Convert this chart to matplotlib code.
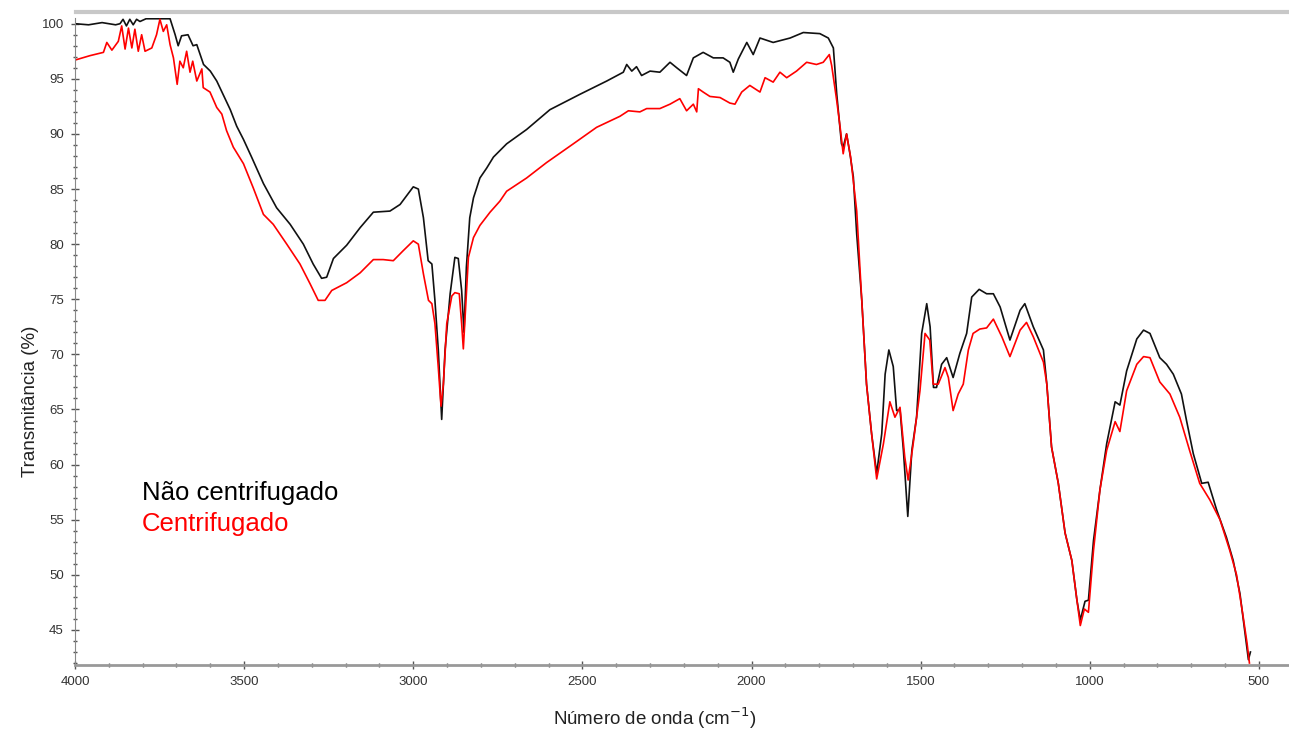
import matplotlib
matplotlib.use("Agg")
import matplotlib.pyplot as plt
from matplotlib.lines import Line2D
import numpy as np

plt.rcParams['font.family'] = ['Liberation Sans', 'DejaVu Sans']

# Não centrifugado (preto)
wn_nc = [4000, 3960, 3920, 3880, 3867, 3858, 3848, 3838, 3828, 3818, 3808, 3790, 3770, 3750, 3735, 3719,
         3704, 3695, 3685, 3666, 3651, 3640, 3620, 3600, 3581, 3561, 3541, 3522, 3502, 3478, 3443, 3404,
         3364, 3325, 3296, 3271, 3256, 3236, 3197, 3157, 3118, 3069, 3039, 3000, 2985, 2970, 2956, 2945,
         2936, 2926, 2916, 2906, 2891, 2877, 2867, 2857, 2850, 2843, 2833, 2822, 2803, 2783, 2763, 2724,
         2665, 2596, 2507, 2428, 2379, 2369, 2354, 2340, 2325, 2300, 2271, 2241, 2221, 2192, 2172, 2143,
         2113, 2084, 2064, 2054, 2039, 2014, 1995, 1975, 1936, 1886, 1847, 1798, 1773, 1758, 1748, 1734,
         1729, 1719, 1709, 1699, 1689, 1674, 1660, 1645, 1630, 1615, 1605, 1594, 1581, 1571, 1561, 1551,
         1538, 1526, 1512, 1497, 1482, 1472, 1462, 1453, 1438, 1423, 1404, 1384, 1364, 1349, 1327, 1305,
         1285, 1265, 1236, 1206, 1192, 1167, 1137, 1127, 1113, 1093, 1073, 1053, 1038, 1028, 1014, 1004,
         989, 970, 950, 925, 911, 891, 861, 841, 822, 793, 773, 753, 729, 714, 694, 669, 650, 625, 596,
         576, 556, 541, 531, 525]
t_nc = [100.0, 99.9, 100.1, 99.9, 100.0, 100.4, 99.8, 100.4, 99.9, 100.4, 100.2, 100.45, 100.45, 100.45, 100.45, 100.45,
        99.0, 98.0, 98.9, 99.0, 98.0, 98.1, 96.3, 95.7, 94.8, 93.5, 92.2, 90.7, 89.5, 87.9, 85.5, 83.3,
        81.8, 80.0, 78.2, 76.9, 77.0, 78.7, 79.9, 81.5, 82.9, 83.0, 83.6, 85.2, 85.0, 82.4, 78.5, 78.2,
        74.9, 70.4, 64.1, 70.4, 75.5, 78.8, 78.7, 75.8, 72.0, 77.9, 82.4, 84.2, 86.0, 86.9, 87.9, 89.1,
        90.4, 92.2, 93.6, 94.8, 95.6, 96.3, 95.7, 96.1, 95.3, 95.7, 95.6, 96.5, 96.0, 95.3, 96.9, 97.4,
        96.9, 96.9, 96.5, 95.6, 96.8, 98.3, 97.2, 98.7, 98.3, 98.7, 99.2, 99.1, 98.7, 97.8, 93.6, 89.1,
        88.8, 90.0, 88.2, 86.1, 80.9, 74.9, 67.3, 62.8, 59.2, 62.8, 68.2, 70.4, 68.9, 64.9, 65.0, 61.3,
        55.3, 61.3, 64.3, 71.9, 74.6, 72.5, 67.0, 67.0, 69.1, 69.7, 67.9, 70.1, 71.9, 75.2, 75.9, 75.5,
        75.5, 74.3, 71.3, 74.0, 74.6, 72.5, 70.4, 67.3, 61.6, 58.3, 53.8, 51.3, 47.7, 45.9, 47.6, 47.7,
        53.1, 57.7, 61.9, 65.7, 65.4, 68.5, 71.4, 72.2, 71.9, 69.7, 69.1, 68.2, 66.4, 64.0, 61.0, 58.3,
        58.4, 55.9, 53.4, 51.3, 48.3, 44.7, 42.3, 43.0]

# Centrifugado (vermelho)
wn_c = [4000, 3956, 3916, 3906, 3891, 3872, 3862, 3852, 3842, 3832, 3823, 3813, 3803, 3793, 3773, 3759,
        3749, 3739, 3729, 3719, 3709, 3698, 3690, 3680, 3670, 3660, 3652, 3640, 3625, 3621, 3601, 3581,
        3566, 3552, 3532, 3502, 3473, 3443, 3414, 3374, 3335, 3305, 3281, 3261, 3241, 3197, 3157, 3118,
        3089, 3059, 3030, 3000, 2985, 2970, 2955, 2945, 2936, 2926, 2918, 2911, 2901, 2886, 2877, 2864,
        2857, 2852, 2844, 2837, 2822, 2803, 2773, 2744, 2724, 2665, 2606, 2527, 2458, 2389, 2364, 2330,
        2310, 2271, 2241, 2212, 2192, 2172, 2162, 2157, 2143, 2123, 2093, 2064, 2049, 2029, 2005, 1975,
        1960, 1936, 1916, 1896, 1867, 1837, 1808, 1788, 1770, 1763, 1748, 1738, 1729, 1719, 1707, 1689,
        1674, 1660, 1645, 1630, 1610, 1591, 1576, 1561, 1547, 1537, 1522, 1502, 1487, 1473, 1463, 1448,
        1428, 1418, 1404, 1389, 1374, 1359, 1345, 1325, 1305, 1285, 1260, 1236, 1206, 1187, 1167, 1137,
        1127, 1113, 1093, 1073, 1053, 1038, 1028, 1016, 1004, 989, 970, 950, 925, 911, 891, 861, 841,
        822, 793, 763, 734, 705, 675, 645, 615, 586, 566, 548, 535, 528]
t_c = [96.7, 97.1, 97.4, 98.3, 97.6, 98.4, 99.8, 97.7, 99.6, 97.8, 99.5, 97.5, 99.0, 97.5, 97.8, 99.0,
       100.4, 99.3, 99.9, 98.1, 96.9, 94.5, 96.6, 96.0, 97.5, 95.6, 96.6, 94.8, 95.9, 94.2, 93.8, 92.4,
       91.8, 90.3, 88.8, 87.3, 85.1, 82.7, 81.8, 80.0, 78.2, 76.4, 74.9, 74.9, 75.8, 76.5, 77.4, 78.6,
       78.6, 78.5, 79.4, 80.3, 80.0, 77.3, 74.9, 74.6, 72.8, 68.8, 65.3, 67.3, 72.8, 75.3, 75.6, 75.5,
       72.8, 70.5, 74.9, 78.8, 80.6, 81.7, 82.9, 83.9, 84.8, 86.0, 87.4, 89.1, 90.6, 91.6, 92.1, 92.0,
       92.3, 92.3, 92.7, 93.2, 92.1, 92.7, 92.0, 94.1, 93.8, 93.4, 93.3, 92.8, 92.7, 93.8, 94.4, 93.8,
       95.1, 94.7, 95.6, 95.1, 95.7, 96.5, 96.3, 96.5, 97.2, 96.2, 93.0, 90.6, 88.2, 90.0, 87.9, 83.0,
       74.9, 67.3, 62.8, 58.7, 61.9, 65.7, 64.3, 65.2, 60.7, 58.6, 61.9, 66.7, 71.9, 71.3, 67.3, 67.3,
       68.8, 67.9, 64.9, 66.4, 67.3, 70.4, 71.9, 72.3, 72.4, 73.2, 71.6, 69.8, 72.2, 72.9, 71.6, 69.3,
       67.3, 61.6, 58.3, 53.8, 51.3, 47.7, 45.4, 46.9, 46.6, 52.2, 57.7, 61.3, 63.9, 63.0, 66.7, 69.1, 69.8,
       69.7, 67.5, 66.4, 64.3, 61.3, 58.3, 56.8, 55.0, 52.2, 50.0, 46.5, 43.8, 42.0]

fig = plt.figure(figsize=(12.89, 7.29), dpi=100)
ax = fig.add_axes([0.0582, 0.0878, 0.9418, 0.888])

ax.plot(wn_nc, t_nc, color='#111111', lw=1.2)
ax.plot(wn_c, t_c, color='#ff0000', lw=1.2)

ax.set_xlim(4000, 411)
ax.set_ylim(41.82, 100.55)

ax.set_xticks(np.arange(4000, 499, -500))
ax.set_xticks(np.arange(4000, 499, -100), minor=True)
ax.set_yticks(np.arange(45, 101, 5))
ax.set_yticks(np.arange(42, 101, 1), minor=True)

ax.tick_params(which='major', direction='inout', length=6, width=1, color='#555555',
               labelsize=9.5, labelcolor='#333333', pad=5)
ax.tick_params(which='minor', direction='inout', length=2.5, width=1, color='#555555')

ax.spines['right'].set_visible(False)
ax.spines['top'].set_visible(False)
ax.spines['left'].set_color('#888888')
ax.spines['bottom'].set_color('#999999')
ax.spines['bottom'].set_linewidth(2)

# faixa cinza no topo
fig.add_artist(Line2D([0.059, 1.0], [0.9835, 0.9835], transform=fig.transFigure,
                      color='#c8c8c8', lw=3))

ax.text(3802, 57.4, 'Não centrifugado', color='black', fontsize=18.5, va='center')
ax.text(3802, 54.6, 'Centrifugado', color='#ff0000', fontsize=18.5, va='center')

fig.text(0.024, 0.45, 'Transmitância (%)', rotation=90, fontsize=13.5, color='#222222',
         ha='center', va='center')
fig.text(0.508, 0.015, 'Número de onda (cm$^{-1}$)', fontsize=13.5, color='#222222',
         ha='center', va='center')

fig.savefig('out.png', dpi=100)
